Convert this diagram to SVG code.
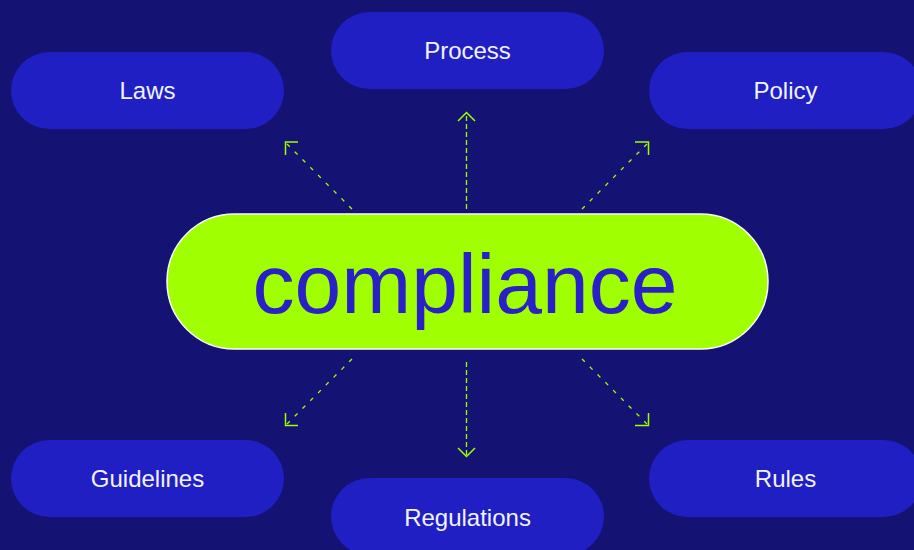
<svg xmlns="http://www.w3.org/2000/svg" width="914" height="550" viewBox="0 0 914 550">
<style>
.pill{fill:#1f1fc4}
.lbl{font-family:"Liberation Sans",Arial,sans-serif;font-size:24px;fill:#f2f2ff;text-anchor:middle}
.ln{fill:none;stroke:#9eff00;stroke-width:1.3}
.dv{stroke-dasharray:5 3}
.dd{stroke-dasharray:4 7}
.ah{fill:none;stroke:#9eff00;stroke-width:1.5}
</style>
<rect width="914" height="550" fill="#141373"/>
<g id="connectors">
<path class="ln dd" d="M352 209L287 144"/>
<path class="ah" d="M298 142H285.5V155"/>
<path class="ln dv" d="M466.5 209V114"/>
<path class="ah" d="M458 121L466.5 112.5L475 121"/>
<path class="ln dd" d="M582 209L647 144"/>
<path class="ah" d="M635 142H648.5V155"/>
<path class="ln dd" d="M352 359L287 424"/>
<path class="ah" d="M285.5 413V425.5H298"/>
<path class="ln dv" d="M466.5 362V455"/>
<path class="ah" d="M458 448L466.5 456.5L475 448"/>
<path class="ln dd" d="M582 359L647 424"/>
<path class="ah" d="M648.5 413V425.5H635"/>
</g>
<g id="center">
<rect x="167" y="214" width="601" height="135" rx="67.5" fill="#a0ff00" stroke="#ffffff" stroke-width="1.5"/>
<text x="465" y="313" font-family="Liberation Sans,Arial,sans-serif" font-size="84" fill="#2a20c8" text-anchor="middle">compliance</text>
</g>
<g id="laws"><rect class="pill" x="11" y="52" width="273" height="77" rx="38.5"/><text class="lbl" x="147.5" y="99">Laws</text></g>
<g id="process"><rect class="pill" x="331" y="12" width="273" height="77" rx="38.5"/><text class="lbl" x="467.5" y="59">Process</text></g>
<g id="policy"><rect class="pill" x="649" y="52" width="273" height="77" rx="38.5"/><text class="lbl" x="785.5" y="99">Policy</text></g>
<g id="guidelines"><rect class="pill" x="11" y="440" width="273" height="77" rx="38.5"/><text class="lbl" x="147.5" y="487">Guidelines</text></g>
<g id="regulations"><rect class="pill" x="331" y="478" width="273" height="77" rx="38.5"/><text class="lbl" x="467.5" y="526">Regulations</text></g>
<g id="rules"><rect class="pill" x="649" y="440" width="273" height="77" rx="38.5"/><text class="lbl" x="785.5" y="487">Rules</text></g>
</svg>
